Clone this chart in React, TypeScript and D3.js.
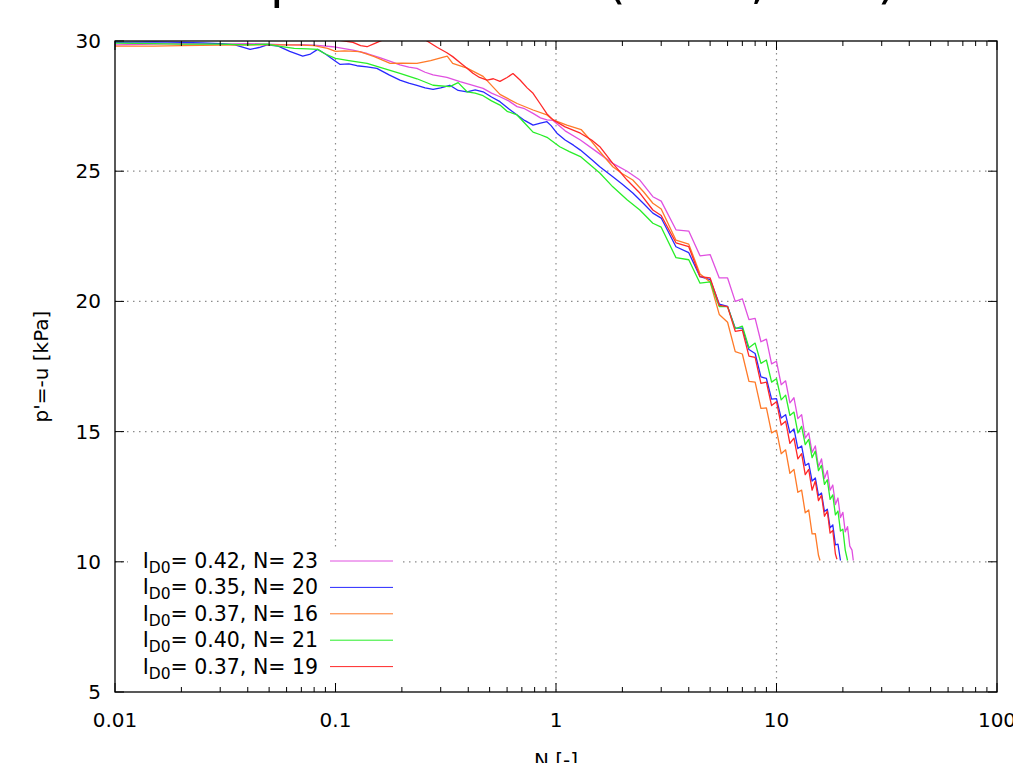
import React from 'react';
import * as d3 from 'd3';

type Pt = [number, number];

const xMajorTicks = [0.01, 0.1, 1, 10, 100];
const xTickLabels = ['0.01', '0.1', '1', '10', '100'];
const xGridValues = [0.1, 1, 10];
const yTicks = [5, 10, 15, 20, 25, 30];
const yGridValues = [10, 15, 20, 25];

const legendID0 = ['0.42', '0.35', '0.37', '0.40', '0.37'];
const legendN = ['23', '20', '16', '21', '19'];
const seriesColors = ['#e050e0', '#2828ff', '#ff7a28', '#28ee28', '#ff2828'];

const pinkData: Pt[] = [
  [0.01, 29.85], [0.015, 29.88], [0.02, 29.9], [0.03, 29.88], [0.04, 29.9], [0.05, 29.88], [0.06, 29.85],
  [0.07, 29.86], [0.08, 29.84], [0.097, 29.78], [0.12, 29.65], [0.139, 29.52], [0.16, 29.35], [0.18, 29.2],
  [0.196, 29.08], [0.215, 29.0], [0.234, 28.95], [0.255, 28.8], [0.277, 28.7], [0.32, 28.6], [0.367, 28.44],
  [0.42, 28.3], [0.467, 28.18], [0.51, 28.0], [0.557, 27.86], [0.61, 27.7], [0.666, 27.48], [0.72, 27.4],
  [0.787, 27.22], [0.85, 27.05], [0.91, 26.97], [0.97, 26.95], [1.1, 26.55], [1.29, 26.2], [1.5, 25.8],
  [1.81, 25.3], [2.1, 25.0], [2.4, 24.66], [2.75, 24.02],
  [3, 23.85], [3.5, 22.75], [4, 22.7], [4.5, 21.75], [5, 21.8], [5.5, 20.9], [6, 20.9], [6.5, 20.0], [7, 20.1],
  [7.5, 19.3], [8, 19.35], [8.5, 18.45], [9, 18.55], [9.5, 17.6], [10, 17.7], [10.5, 16.8], [11, 16.95],
  [11.5, 16.1], [12, 16.3], [12.5, 15.5], [13, 15.65], [13.5, 14.75], [14, 14.95], [14.5, 14.2], [15, 14.45],
  [15.5, 13.65], [16, 13.95], [16.5, 13.2], [17, 13.5], [17.5, 12.75], [18, 12.95], [18.5, 12.2], [19, 12.45],
  [19.5, 11.7], [20, 11.9], [20.5, 11.15], [21, 11.35], [21.5, 10.6], [22, 10.45], [22.3, 10.05],
];

const blueData: Pt[] = [
  [0.01, 29.95], [0.015, 29.97], [0.02, 29.95], [0.025, 29.93], [0.03, 29.9], [0.035, 29.85], [0.041, 29.68],
  [0.045, 29.75], [0.049, 29.85], [0.055, 29.8], [0.062, 29.6], [0.071, 29.42], [0.077, 29.5], [0.083, 29.68],
  [0.09, 29.5], [0.1, 29.22], [0.105, 29.1], [0.115, 29.12], [0.125, 29.05], [0.139, 29.01], [0.154, 28.95],
  [0.175, 28.7], [0.196, 28.5], [0.215, 28.38], [0.234, 28.3], [0.255, 28.2], [0.277, 28.14], [0.3, 28.2],
  [0.33, 28.3], [0.36, 28.1], [0.395, 28.05], [0.43, 28.12], [0.467, 28.05], [0.51, 27.85], [0.557, 27.67],
  [0.61, 27.4], [0.666, 27.16], [0.72, 26.95], [0.787, 26.77], [0.85, 26.85], [0.91, 26.9], [0.95, 26.75],
  [1.01, 26.46], [1.1, 26.2], [1.2, 26.0], [1.29, 25.81], [1.45, 25.45], [1.58, 25.17], [1.81, 24.79],
  [2.0, 24.5], [2.23, 24.16], [2.5, 23.75], [2.75, 23.39],
  [3, 23.2], [3.5, 22.1], [4, 21.87], [4.5, 20.95], [5, 20.84], [5.5, 19.9], [6, 19.81], [6.5, 18.97],
  [7, 18.97], [7.5, 18.15], [8, 18.0], [8.5, 17.1], [9, 17.04], [9.5, 16.25], [10, 16.27], [10.5, 15.52],
  [11, 15.65], [11.5, 14.95], [12, 15.1], [12.5, 14.35], [13, 14.45], [13.5, 13.7], [14, 13.78], [14.5, 13.1],
  [15, 13.22], [15.5, 12.55], [16, 12.64], [16.5, 11.93], [17, 12.02], [17.5, 11.3], [18, 11.42], [18.5, 10.65],
  [19, 10.68], [19.5, 10.05],
];

const orangeData: Pt[] = [
  [0.01, 29.8], [0.015, 29.8], [0.02, 29.82], [0.03, 29.84], [0.04, 29.85], [0.05, 29.85], [0.06, 29.85],
  [0.07, 29.84], [0.08, 29.82], [0.092, 29.72], [0.1, 29.6], [0.11, 29.62], [0.129, 29.59], [0.15, 29.4],
  [0.177, 29.14], [0.2, 29.15], [0.234, 29.14], [0.27, 29.25], [0.3, 29.35], [0.321, 29.42], [0.34, 29.14],
  [0.395, 28.96], [0.467, 28.64], [0.557, 27.95], [0.666, 27.6], [0.787, 27.35], [0.91, 27.16], [0.97, 26.97],
  [1.12, 26.77], [1.3, 26.6], [1.43, 26.2], [1.6, 25.7], [1.81, 25.17], [2.0, 24.9], [2.23, 24.66], [2.5, 24.2],
  [2.75, 23.77],
  [3, 23.55], [3.5, 22.35], [4, 22.2], [4.5, 21.05], [5, 20.75], [5.5, 19.5], [6, 19.2], [6.5, 18.07],
  [7, 17.98], [7.5, 16.93], [8, 16.9], [8.5, 15.89], [9, 15.91], [9.5, 14.95], [10, 15.05], [10.5, 14.15],
  [11, 14.3], [11.5, 13.4], [12, 13.55], [12.5, 12.67], [13, 12.75], [13.5, 11.88], [14, 11.99], [14.5, 11.07],
  [15, 11.08], [15.5, 10.25], [15.75, 10.05],
];

const greenData: Pt[] = [
  [0.01, 29.92], [0.015, 29.9], [0.02, 29.88], [0.03, 29.88], [0.04, 29.85], [0.049, 29.88], [0.055, 29.8],
  [0.065, 29.72], [0.075, 29.7], [0.083, 29.68], [0.09, 29.5], [0.1, 29.33], [0.115, 29.25], [0.139, 29.14],
  [0.165, 28.95], [0.196, 28.76], [0.234, 28.55], [0.277, 28.3], [0.33, 28.25], [0.36, 28.4], [0.395, 28.05],
  [0.43, 28.0], [0.467, 27.9], [0.51, 27.7], [0.557, 27.54], [0.6, 27.3], [0.666, 27.16], [0.72, 26.85],
  [0.787, 26.5], [0.85, 26.4], [0.91, 26.3], [1.04, 25.94], [1.15, 25.75], [1.29, 25.56], [1.45, 25.2],
  [1.58, 24.93], [1.81, 24.4], [2.1, 23.9], [2.4, 23.51], [2.75, 23.0],
  [3, 22.85], [3.5, 21.68], [4, 21.6], [4.5, 20.7], [5, 20.75], [5.5, 19.8], [6, 19.8], [6.5, 18.95],
  [7, 19.05], [7.5, 18.22], [8, 18.4], [8.5, 17.62], [9, 17.75], [9.5, 16.9], [10, 17.03], [10.5, 16.22],
  [11, 16.4], [11.5, 15.62], [12, 15.75], [12.5, 14.95], [13, 15.2], [13.5, 14.5], [14, 14.7], [14.5, 14.0],
  [15, 14.25], [15.5, 13.5], [16, 13.7], [16.5, 12.97], [17, 13.15], [17.5, 12.4], [18, 12.57], [18.5, 11.8],
  [19, 11.95], [19.5, 11.18], [20, 11.25], [20.5, 10.45], [21, 10.05],
];

const redData: Pt[] = [
  [0.01, 30.15], [0.03, 30.15], [0.06, 30.1], [0.1, 30.05], [0.12, 29.95], [0.13, 29.82], [0.139, 29.78],
  [0.15, 29.9], [0.165, 30.05], [0.2, 30.15], [0.25, 30.1], [0.26, 30.0], [0.29, 29.75], [0.32, 29.55],
  [0.34, 29.4], [0.37, 29.15], [0.395, 28.95], [0.42, 28.76], [0.45, 28.6], [0.487, 28.5], [0.52, 28.55],
  [0.557, 28.45], [0.6, 28.6], [0.638, 28.75], [0.687, 28.5], [0.74, 28.2], [0.787, 27.99], [0.846, 27.6],
  [0.91, 27.2], [0.97, 26.97], [1.1, 26.7], [1.29, 26.46], [1.45, 26.2], [1.58, 25.94], [1.81, 25.3],
  [2.1, 24.66], [2.4, 24.16], [2.75, 23.51],
  [3, 23.3], [3.5, 22.25], [4, 22.1], [4.5, 20.95], [5, 20.9], [5.5, 19.85], [6, 19.8], [6.5, 18.85],
  [7, 18.9], [7.5, 17.9], [8, 17.85], [8.5, 16.85], [9, 16.9], [9.5, 16.0], [10, 16.15], [10.5, 15.25],
  [11, 15.4], [11.5, 14.55], [12, 14.75], [12.5, 13.95], [13, 14.15], [13.5, 13.35], [14, 13.55], [14.5, 12.75],
  [15, 13.1], [15.5, 12.35], [16, 12.55], [16.5, 11.75], [17, 11.95], [17.5, 11.1], [18, 11.2], [18.5, 10.3],
  [18.8, 10.1],
];

const seriesData: Pt[][] = [pinkData, blueData, orangeData, greenData, redData];

const FONT = 'DejaVu Sans, Liberation Sans, sans-serif';

export default function App() {
  const W = 1013;
  const H = 763;
  const x = d3.scaleLog().domain([0.01, 100]).range([115, 997]);
  const y = d3.scaleLinear().domain([5, 30]).range([692, 41]);
  const [xl, xr] = x.range();
  const [yb, yt] = y.range();
  const line = d3.line<Pt>().x((d) => x(d[0])).y((d) => y(d[1]));

  const isPow10 = (t: number) => Math.abs(Math.log10(t) - Math.round(Math.log10(t))) < 1e-6;
  const minorX = x.ticks().filter((t) => !isPow10(t));

  const majorLen = 9;
  const minorLen = 5;

  const legendTop = 561;
  const legendStep = 26.4;

  return (
    <svg width={W} height={H} style={{ position: 'absolute', left: 0, top: 0, background: '#fff' }}>
      <defs>
        <clipPath id="plotClip">
          <rect x={xl} y={yt} width={xr - xl} height={yb - yt} />
        </clipPath>
      </defs>
      <rect x={0} y={0} width={W} height={H} fill="#fff" />

      {/* partially visible title (cut off at the top edge, as in the reference) */}
      <text x={270} y={-2} fontFamily={FONT} fontSize={50} fill="#000">
        p' versus N – (Tests, 3Hz)
      </text>

      {/* grid */}
      {xGridValues.map((v) => (
        <line key={'gx' + v} x1={x(v)} x2={x(v)} y1={yt} y2={yb} stroke="#8c8c8c" strokeWidth={1.2} strokeDasharray="1.5,4.5" />
      ))}
      {yGridValues.map((v) => (
        <line key={'gy' + v} x1={xl} x2={xr} y1={y(v)} y2={y(v)} stroke="#8c8c8c" strokeWidth={1.2} strokeDasharray="1.5,4.5" />
      ))}

      {/* legend background (opaque key) */}
      <rect x={128} y={legendTop - 14} width={275} height={legendStep * 5 + 4} fill="#fff" />

      {/* data */}
      <g clipPath="url(#plotClip)">
        {seriesData.map((d, i) => (
          <path key={'s' + i} d={line(d) || ''} fill="none" stroke={seriesColors[i]} strokeWidth={1.3} strokeLinejoin="round" />
        ))}
      </g>

      {/* frame */}
      <rect x={xl} y={yt} width={xr - xl} height={yb - yt} fill="none" stroke="#000" strokeWidth={1.3} />

      {/* x ticks */}
      {xMajorTicks.map((v) => (
        <g key={'xt' + v}>
          <line x1={x(v)} x2={x(v)} y1={yb} y2={yb - majorLen} stroke="#000" strokeWidth={1} />
          <line x1={x(v)} x2={x(v)} y1={yt} y2={yt + majorLen} stroke="#000" strokeWidth={1} />
        </g>
      ))}
      {minorX.map((v) => (
        <g key={'xm' + v}>
          <line x1={x(v)} x2={x(v)} y1={yb} y2={yb - minorLen} stroke="#000" strokeWidth={1} />
          <line x1={x(v)} x2={x(v)} y1={yt} y2={yt + minorLen} stroke="#000" strokeWidth={1} />
        </g>
      ))}
      {xMajorTicks.map((v, i) => (
        <text key={'xl' + v} x={x(v)} y={727} textAnchor="middle" fontFamily={FONT} fontSize={20} fill="#000">
          {xTickLabels[i]}
        </text>
      ))}

      {/* y ticks */}
      {yTicks.map((v) => (
        <g key={'yt' + v}>
          <line x1={xl} x2={xl + majorLen} y1={y(v)} y2={y(v)} stroke="#000" strokeWidth={1} />
          <line x1={xr} x2={xr - majorLen} y1={y(v)} y2={y(v)} stroke="#000" strokeWidth={1} />
          <text x={101} y={y(v) + 7} textAnchor="end" fontFamily={FONT} fontSize={20} fill="#000">
            {v}
          </text>
        </g>
      ))}

      {/* axis titles */}
      <text x={(xl + xr) / 2} y={767} textAnchor="middle" fontFamily={FONT} fontSize={20} fill="#000">
        N [-]
      </text>
      <text transform={`translate(48, ${(yt + yb) / 2}) rotate(-90)`} textAnchor="middle" fontFamily={FONT} fontSize={20} fill="#000">
        p'=-u [kPa]
      </text>

      {/* legend */}
      {legendID0.map((id, i) => {
        const cy = legendTop + i * legendStep;
        return (
          <g key={'lg' + i}>
            <text x={318} y={cy + 7} textAnchor="end" fontFamily={FONT} fontSize={20.5} fill="#000">
              I
              <tspan dy={5} fontSize={15.5}>D0</tspan>
              <tspan dy={-5}>{`= ${id}, N= ${legendN[i]}`}</tspan>
            </text>
            <line x1={330} x2={393} y1={cy} y2={cy} stroke={seriesColors[i]} strokeWidth={1} />
          </g>
        );
      })}
    </svg>
  );
}
